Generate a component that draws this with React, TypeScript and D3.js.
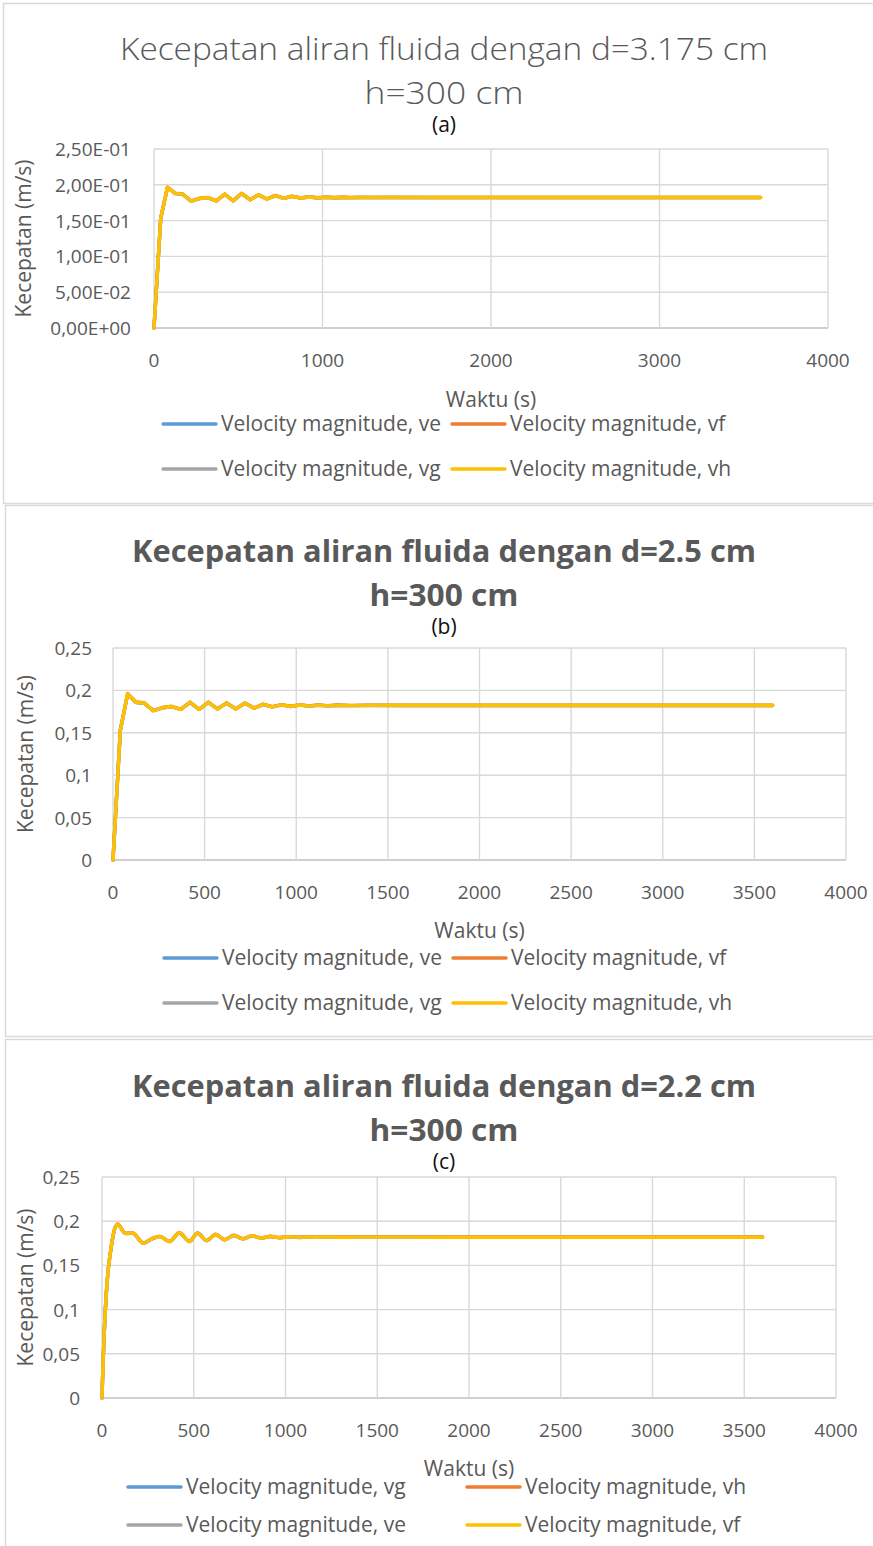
import React from 'react';
import * as d3 from 'd3';

// time stamps (s) for the sampled points
const timeA = [0, 40, 80, 125, 170, 220, 270, 320, 370, 420, 470, 520, 570, 620, 670, 720, 770, 820, 870, 920, 970, 1020, 1070, 1120, 1170, 1220, 1300, 1400, 1600, 2000, 2500, 3000, 3600];
const timeB = [0, 40, 80, 125, 170, 220, 270, 320, 370, 420, 470, 520, 570, 620, 670, 720, 770, 820, 870, 920, 970, 1020, 1070, 1120, 1170, 1220, 1300, 1400, 1600, 2000, 2500, 3000, 3600];
const timeC = [0, 40, 85, 125, 170, 225, 270, 316, 370, 421, 476, 521, 570, 619, 668, 718, 767, 817, 866, 918, 968, 1020, 1070, 1120, 1170, 1220, 1300, 1400, 1600, 2000, 2500, 3000, 3600];

// (a) d = 3.175 cm
const veA = [0, 0.1530, 0.1962, 0.1878, 0.1868, 0.1772, 0.1808, 0.1818, 0.1776, 0.1866, 0.1776, 0.1877, 0.1792, 0.1858, 0.1802, 0.1848, 0.1812, 0.1838, 0.1816, 0.1829, 0.1819, 0.1825, 0.1820, 0.1823, 0.1821, 0.1822, 0.1821, 0.1822, 0.1821, 0.1821, 0.1821, 0.1821, 0.1821];
const vfA = [0, 0.1538, 0.1967, 0.1883, 0.1872, 0.1773, 0.1812, 0.1822, 0.1776, 0.1871, 0.1777, 0.1881, 0.1792, 0.1862, 0.1802, 0.1852, 0.1812, 0.1842, 0.1817, 0.1832, 0.1820, 0.1828, 0.1822, 0.1826, 0.1823, 0.1825, 0.1824, 0.1825, 0.1824, 0.1824, 0.1824, 0.1824, 0.1824];
const vgA = [0, 0.1534, 0.1964, 0.1879, 0.1869, 0.1771, 0.1809, 0.1819, 0.1775, 0.1868, 0.1775, 0.1879, 0.1791, 0.1859, 0.1801, 0.1849, 0.1811, 0.1839, 0.1815, 0.1830, 0.1818, 0.1826, 0.1820, 0.1824, 0.1821, 0.1823, 0.1822, 0.1823, 0.1822, 0.1822, 0.1822, 0.1822, 0.1822];
const vhA = [0, 0.1536, 0.1965, 0.1880, 0.1870, 0.1770, 0.1810, 0.1820, 0.1774, 0.1870, 0.1774, 0.1880, 0.1790, 0.1860, 0.1800, 0.1850, 0.1810, 0.1840, 0.1815, 0.1830, 0.1818, 0.1826, 0.1820, 0.1824, 0.1821, 0.1823, 0.1822, 0.1823, 0.1822, 0.1822, 0.1822, 0.1822, 0.1822];

// (b) d = 2.5 cm
const veB = [0, 0.1525, 0.1957, 0.1858, 0.1848, 0.1762, 0.1793, 0.1808, 0.1777, 0.1857, 0.1777, 0.1857, 0.1782, 0.1848, 0.1782, 0.1848, 0.1791, 0.1833, 0.1806, 0.1829, 0.1811, 0.1827, 0.1816, 0.1825, 0.1818, 0.1823, 0.1820, 0.1822, 0.1821, 0.1821, 0.1821, 0.1821, 0.1821];
const vfB = [0, 0.1534, 0.1964, 0.1864, 0.1854, 0.1762, 0.1798, 0.1813, 0.1777, 0.1863, 0.1777, 0.1863, 0.1782, 0.1853, 0.1783, 0.1853, 0.1792, 0.1838, 0.1808, 0.1833, 0.1813, 0.1831, 0.1818, 0.1829, 0.1821, 0.1827, 0.1824, 0.1826, 0.1825, 0.1825, 0.1825, 0.1825, 0.1825];
const vgB = [0, 0.1528, 0.1959, 0.1859, 0.1849, 0.1761, 0.1794, 0.1809, 0.1776, 0.1859, 0.1776, 0.1859, 0.1781, 0.1849, 0.1781, 0.1849, 0.1790, 0.1834, 0.1805, 0.1830, 0.1810, 0.1828, 0.1815, 0.1826, 0.1818, 0.1824, 0.1821, 0.1823, 0.1822, 0.1822, 0.1822, 0.1822, 0.1822];
const vhB = [0, 0.1530, 0.1960, 0.1860, 0.1850, 0.1760, 0.1795, 0.1810, 0.1775, 0.1860, 0.1775, 0.1860, 0.1780, 0.1850, 0.1780, 0.1850, 0.1790, 0.1835, 0.1805, 0.1830, 0.1810, 0.1828, 0.1815, 0.1826, 0.1818, 0.1824, 0.1821, 0.1823, 0.1822, 0.1822, 0.1822, 0.1822, 0.1822];

// (c) d = 2.2 cm
const vgC = [0, 0.1555, 0.1963, 0.1863, 0.1863, 0.1752, 0.1798, 0.1825, 0.1772, 0.1866, 0.1772, 0.1863, 0.1781, 0.1848, 0.1791, 0.1838, 0.1801, 0.1833, 0.1810, 0.1826, 0.1813, 0.1823, 0.1816, 0.1821, 0.1817, 0.1820, 0.1818, 0.1819, 0.1819, 0.1818, 0.1818, 0.1818, 0.1818];
const vhC = [0, 0.1562, 0.1969, 0.1868, 0.1867, 0.1751, 0.1802, 0.1828, 0.1771, 0.1872, 0.1771, 0.1867, 0.1780, 0.1852, 0.1790, 0.1842, 0.1800, 0.1837, 0.1811, 0.1830, 0.1815, 0.1826, 0.1818, 0.1824, 0.1819, 0.1823, 0.1821, 0.1822, 0.1822, 0.1821, 0.1821, 0.1821, 0.1821];
const veC = [0, 0.1558, 0.1965, 0.1864, 0.1864, 0.1751, 0.1799, 0.1826, 0.1771, 0.1868, 0.1771, 0.1864, 0.1781, 0.1849, 0.1791, 0.1839, 0.1801, 0.1834, 0.1810, 0.1827, 0.1814, 0.1823, 0.1817, 0.1821, 0.1818, 0.1820, 0.1819, 0.1819, 0.1819, 0.1818, 0.1818, 0.1818, 0.1818];
const vfC = [0, 0.1560, 0.1966, 0.1865, 0.1865, 0.1750, 0.1800, 0.1826, 0.1770, 0.1870, 0.1770, 0.1865, 0.1780, 0.1850, 0.1790, 0.1840, 0.1800, 0.1835, 0.1810, 0.1828, 0.1814, 0.1824, 0.1817, 0.1822, 0.1818, 0.1821, 0.1819, 0.1820, 0.1820, 0.1818, 0.1818, 0.1818, 0.1818];

const namesAB = ['Velocity magnitude, ve', 'Velocity magnitude, vf', 'Velocity magnitude, vg', 'Velocity magnitude, vh'];
const namesC = ['Velocity magnitude, vg', 'Velocity magnitude, vh', 'Velocity magnitude, ve', 'Velocity magnitude, vf'];
const colors = ['#5B9BD5', '#ED7D31', '#A5A5A5', '#FFC000'];

const xTicksA = [0, 1000, 2000, 3000, 4000];
const xTicksBC = [0, 500, 1000, 1500, 2000, 2500, 3000, 3500, 4000];
const yTicks = [0, 0.05, 0.1, 0.15, 0.2, 0.25];
const yLabelsA = ['0,00E+00', '5,00E-02', '1,00E-01', '1,50E-01', '2,00E-01', '2,50E-01'];
const yLabelsBC = ['0', '0,05', '0,1', '0,15', '0,2', '0,25'];

const TEXT = '#595959';
const GRID = '#d9d9d9';
const FONT = '"Open Sans", sans-serif';

type Cfg = {
  x0: number; x1: number; yTop: number; yBot: number;
  titleW: number; subW: number; titleY: number; bold: boolean; title: string; tag: string;
  yLabelRight: number; yTitleX: number; xTickY: number; xTitleY: number;
  legX: number[]; legY: number[];
};

function Panel({ cfg, times, series, names, xTicks, yLabels, smooth }: {
  cfg: Cfg; times: number[]; series: number[][]; names: string[];
  xTicks: number[]; yLabels: string[]; smooth: boolean;
}) {
  const x = d3.scaleLinear().domain([0, 4000]).range([cfg.x0, cfg.x1]);
  const y = d3.scaleLinear().domain([0, 0.25]).range([cfg.yBot, cfg.yTop]);
  const line = d3.line<number>()
    .x((_, i) => x(times[i]))
    .y(d => y(d))
    .curve(smooth ? d3.curveCatmullRom.alpha(0.5) : d3.curveLinear);
  const cx = (cfg.x0 + cfg.x1) / 2;
  const cy = (cfg.yTop + cfg.yBot) / 2;
  const tw = cfg.bold ? 700 : 300;

  return (
    <g fontFamily={FONT} fill={TEXT}>
      <text x={444} y={cfg.titleY} textAnchor="middle" fontSize={31}
        fontWeight={tw} textLength={cfg.titleW} lengthAdjust="spacingAndGlyphs">
        {cfg.title}
      </text>
      <text x={444} y={cfg.titleY + 44} textAnchor="middle" fontSize={31}
        fontWeight={tw} textLength={cfg.subW} lengthAdjust="spacingAndGlyphs">h=300 cm</text>
      <text x={444} y={cfg.titleY + 72} textAnchor="middle" fontSize={21} fill="#111">{cfg.tag}</text>

      {yTicks.map(t => (
        <line key={'h' + t} x1={cfg.x0} x2={cfg.x1} y1={y(t)} y2={y(t)}
          stroke={t === 0 ? '#bfbfbf' : GRID} strokeWidth={1.4} />
      ))}
      {xTicks.map(t => (
        <line key={'v' + t} x1={x(t)} x2={x(t)} y1={cfg.yTop} y2={cfg.yBot}
          stroke={GRID} strokeWidth={1.4} />
      ))}

      {yTicks.map((t, i) => (
        <text key={'yl' + t} x={cfg.yLabelRight} y={y(t) + 7} textAnchor="end" fontSize={19}>{yLabels[i]}</text>
      ))}
      {xTicks.map(t => (
        <text key={'xl' + t} x={x(t)} y={cfg.xTickY} textAnchor="middle" fontSize={19}>{t}</text>
      ))}

      <text x={cx} y={cfg.xTitleY} textAnchor="middle" fontSize={21}>Waktu (s)</text>
      <text transform={`translate(${cfg.yTitleX},${cy}) rotate(-90)`} textAnchor="middle"
        dominantBaseline="middle" fontSize={21}>Kecepatan (m/s)</text>

      {series.map((s, i) => (
        <path key={'s' + i} d={line(s) || ''} fill="none" stroke={colors[i]}
          strokeWidth={3.4} strokeLinejoin="round" strokeLinecap="round" />
      ))}

      {names.map((n, i) => {
        const lx = cfg.legX[i % 2];
        const ly = cfg.legY[Math.floor(i / 2)];
        return (
          <g key={'lg' + i}>
            <line x1={lx} x2={lx + 53} y1={ly} y2={ly} stroke={colors[i]} strokeWidth={3.4} strokeLinecap="round" />
            <text x={lx + 58} y={ly + 7} fontSize={21}>{n}</text>
          </g>
        );
      })}
    </g>
  );
}

const cfgA: Cfg = {
  x0: 154, x1: 828, yTop: 149, yBot: 328,
  titleW: 648, subW: 159, titleY: 60, bold: false, title: 'Kecepatan aliran fluida dengan d=3.175 cm', tag: '(a)',
  yLabelRight: 131, yTitleX: 25, xTickY: 367, xTitleY: 407,
  legX: [163, 452], legY: [424, 469],
};
const cfgB: Cfg = {
  x0: 113, x1: 846, yTop: 648, yBot: 860,
  titleW: 624, subW: 149, titleY: 562, bold: true, title: 'Kecepatan aliran fluida dengan d=2.5 cm', tag: '(b)',
  yLabelRight: 92, yTitleX: 27, xTickY: 899, xTitleY: 938,
  legX: [164, 453], legY: [958, 1003],
};
const cfgC: Cfg = {
  x0: 102, x1: 836, yTop: 1177, yBot: 1398,
  titleW: 624, subW: 149, titleY: 1097, bold: true, title: 'Kecepatan aliran fluida dengan d=2.2 cm', tag: '(c)',
  yLabelRight: 80, yTitleX: 27, xTickY: 1437, xTitleY: 1476,
  legX: [128, 467], legY: [1487, 1525],
};

export default function App() {
  return (
    <div style={{ position: 'absolute', left: 0, top: 0 }}>
      <svg width={873} height={1546} style={{ display: 'block', background: '#fff' }}>
        <rect x={3.5} y={3.5} width={880} height={500} fill="none" stroke={GRID} strokeWidth={1.5} />
        <rect x={5.5} y={505.5} width={880} height={531} fill="none" stroke={GRID} strokeWidth={1.5} />
        <rect x={5.5} y={1039.5} width={880} height={520} fill="none" stroke={GRID} strokeWidth={1.5} />
        <Panel cfg={cfgA} times={timeA} series={[veA, vfA, vgA, vhA]} names={namesAB}
          xTicks={xTicksA} yLabels={yLabelsA} smooth={false} />
        <Panel cfg={cfgB} times={timeB} series={[veB, vfB, vgB, vhB]} names={namesAB}
          xTicks={xTicksBC} yLabels={yLabelsBC} smooth={false} />
        <Panel cfg={cfgC} times={timeC} series={[vgC, vhC, veC, vfC]} names={namesC}
          xTicks={xTicksBC} yLabels={yLabelsBC} smooth={true} />
      </svg>
    </div>
  );
}
